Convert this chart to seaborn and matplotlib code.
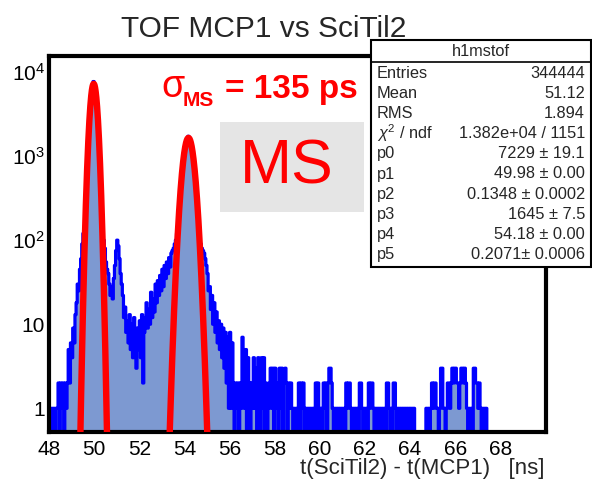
import numpy as np
import pandas as pd
import matplotlib
matplotlib.use("Agg")
import matplotlib.pyplot as plt
from matplotlib.patches import Rectangle
from matplotlib.lines import Line2D
from matplotlib.ticker import FixedLocator, FixedFormatter, MultipleLocator, NullFormatter
import seaborn as sns

# ---- histogram contents, 0.05 ns bins from 48 to 70 ns ----
counts_48_50 = [0, 1, 0, 1, 1, 0, 1, 1, 2, 0, 2, 1, 2, 0, 2, 1, 2, 5, 2, 6,
                4, 9, 6, 13, 18, 30, 25, 45, 60, 90, 120, 130, 260, 580, 1230, 2300, 3750, 5350, 6700, 7700]
counts_50_52 = [6900, 5650, 4080, 2560, 1400, 680, 300, 150, 100, 80, 55, 45, 40, 30, 22, 28, 20, 35, 50, 75,
                100, 85, 60, 40, 30, 22, 12, 16, 8, 11, 6, 13, 5, 10, 4, 12, 7, 3, 9, 5]
counts_52_54 = [11, 4, 13, 2, 8, 12, 18, 9, 15, 10, 24, 12, 20, 14, 30, 18, 33, 22, 38, 25,
                45, 28, 50, 35, 55, 40, 62, 48, 70, 75, 80, 90, 100, 120, 160, 250, 380, 560, 770, 1010]
counts_54_56 = [1250, 1450, 1600, 1720, 1630, 1490, 1290, 1060, 820, 600, 410, 270, 170, 110, 90, 80, 75, 70, 60, 50,
                40, 25, 28, 15, 22, 10, 18, 8, 14, 6, 11, 5, 10, 4, 9, 3, 8, 2, 7, 1]
counts_56_60 = [8, 1, 6, 2, 0, 2, 1, 2, 0, 2, 1, 7, 5, 1, 5, 0, 4, 2, 0, 2,
                1, 4, 1, 3, 0, 4, 2, 0, 4, 1, 4, 0, 2, 0, 1, 2, 3, 1, 3, 0,
                3, 1, 2, 0, 3, 1, 3, 0, 2, 3, 2, 0, 2, 1, 2, 1, 0, 1, 0, 1,
                0, 2, 0, 2, 1, 2, 0, 1, 0, 1, 0, 1, 0, 1, 0, 1, 2, 0, 2, 1]
counts_60_64 = [0, 1, 0, 2, 1, 2, 0, 2, 3, 3, 2, 1, 0, 1, 0, 1, 0, 1, 0, 1,
                0, 1, 0, 2, 1, 2, 2, 1, 0, 1, 0, 1, 0, 1, 0, 2, 2, 1, 0, 1,
                0, 1, 0, 2, 1, 2, 2, 1, 0, 1, 0, 1, 0, 1, 0, 1, 0, 1, 0, 2,
                2, 1, 0, 1, 0, 2, 2, 1, 0, 1, 0, 1, 0, 1, 0, 1, 0, 1, 0, 1]
counts_64_70 = [1, 0, 1, 1, 0, 0, 0, 0, 0, 0, 0, 0, 0, 0, 1, 0, 1, 0, 1, 2,
                1, 2, 2, 1, 1, 0, 1, 3, 3, 1, 1, 0, 1, 2, 2, 1, 2, 3, 2, 3,
                3, 2, 2, 1, 2, 3, 3, 2, 3, 2, 1, 0, 1, 0, 1, 0, 3, 3, 2, 2,
                1, 2, 1, 0, 1, 0, 1, 1, 0, 0, 0, 0, 0, 0, 0, 0, 0, 0, 0, 0,
                0, 0, 0, 0, 0, 0, 0, 0, 0, 0, 0, 0, 0, 0, 0, 0, 0, 0, 0, 0,
                0, 0, 0, 0, 0, 0, 0, 0, 0, 0, 0, 0, 0, 0, 0, 0, 0, 0, 0, 0]

# ---- double-gaussian fit result (p0..p5) ----
fit_params = [7229.0, 49.98, 0.1348, 1645.0, 54.18, 0.2071]
fit_range = (49.0, 55.5)

# ---- statistics panel ----
stats_title = "h1mstof"
stats_names = ["Entries", "Mean", "RMS", r"$\chi^{2}$ / ndf", "p0", "p1", "p2", "p3", "p4", "p5"]
stats_values = ["344444", "51.12", "1.894", "1.382e+04 / 1151", "7229 \u00b1 19.1",
                "49.98 \u00b1 0.00", "0.1348 \u00b1 0.0002", "1645 \u00b1 7.5",
                "54.18 \u00b1 0.00", "0.2071\u00b1 0.0006"]

y_ticks = [1, 10, 100, 1000, 10000]
y_tick_labels = ["1", "10", r"$10^{2}$", r"$10^{3}$", r"$10^{4}$"]
x_ticks = [48, 50, 52, 54, 56, 58, 60, 62, 64, 66, 68]

counts = np.array(counts_48_50 + counts_50_52 + counts_52_54 + counts_54_56
                  + counts_56_60 + counts_60_64 + counts_64_70, dtype=float)
edges = np.round(np.linspace(48.0, 70.0, len(counts) + 1), 4)
centers = 0.5 * (edges[:-1] + edges[1:])
hist_df = pd.DataFrame({"t": centers, "n": counts})

sns.set_theme(style="white")
plt.rcParams["font.family"] = ["Liberation Sans", "DejaVu Sans"]
plt.rcParams["mathtext.fontset"] = "custom"
plt.rcParams["mathtext.rm"] = "Liberation Sans"
plt.rcParams["mathtext.it"] = "Liberation Sans:italic"
plt.rcParams["mathtext.bf"] = "Liberation Sans:bold"

W, H = 592, 482
fig = plt.figure(figsize=(W / 100, H / 100), dpi=100)
fig.patch.set_facecolor("white")


def fx(px):
    return px / W


def fy(py):
    return 1 - py / H


ax_l, ax_r, ax_t, ax_b = 49, 545.5, 56, 431.5
ax = fig.add_axes([fx(ax_l), fy(ax_b), (ax_r - ax_l) / W, (ax_b - ax_t) / H])

sns.histplot(data=hist_df, x="t", weights="n", bins=list(edges), element="step", fill=True,
             facecolor="#7d99d1", edgecolor="#0000ff", linewidth=2.3, alpha=1.0, ax=ax)

# fitted function drawn from the quoted parameters
xf = np.linspace(fit_range[0], fit_range[1], 1500)
p = fit_params
yf = (p[0] * np.exp(-0.5 * ((xf - p[1]) / p[2]) ** 2)
      + p[3] * np.exp(-0.5 * ((xf - p[4]) / p[5]) ** 2))
sns.lineplot(x=xf, y=yf, color="#ff0000", linewidth=4.6, ax=ax, zorder=3)

ax.set_yscale("log")
ax.set_xlim(48, 70)
ax.set_ylim(0.53, 1.55e4)
ax.set_xlabel("")
ax.set_ylabel("")

ax.xaxis.set_major_locator(FixedLocator(x_ticks))
ax.xaxis.set_minor_locator(MultipleLocator(0.5))
ax.yaxis.set_major_locator(FixedLocator(y_ticks))
ax.yaxis.set_major_formatter(FixedFormatter(y_tick_labels))
ax.yaxis.set_minor_locator(FixedLocator([m * 10 ** e for e in range(-1, 5) for m in range(2, 10)]))
ax.yaxis.set_minor_formatter(NullFormatter())
ax.tick_params(axis="both", which="both", direction="in", top=False, right=False,
               color="black", width=1.6, labelsize=15, labelcolor="black")
ax.tick_params(axis="x", which="major", length=9, pad=6)
ax.tick_params(axis="x", which="minor", length=4.5)
ax.tick_params(axis="y", which="major", length=9, pad=3)
ax.tick_params(axis="y", which="minor", length=5)
for s in ax.spines.values():
    s.set_visible(True)
    s.set_color("black")
    s.set_linewidth(3.0)
ax.set_facecolor("white")

# sigma annotation
fig.text(fx(161), fy(97), "\u03c3", color="#ff0000", fontsize=27, fontweight="normal",
         ha="left", va="baseline")
fig.text(fx(183), fy(106), "MS", color="#ff0000", fontsize=15, fontweight="bold",
         ha="left", va="baseline")
fig.text(fx(225), fy(98), "= 135 ps", color="#ff0000", fontsize=24, fontweight="bold",
         ha="left", va="baseline")

# "MS" label on grey panel
fig.patches.append(Rectangle((fx(220), fy(212)), (364 - 220) / W, (212 - 122) / H,
                             transform=fig.transFigure, facecolor="#e5e5e5",
                             edgecolor="none", zorder=1))
fig.text(fx(287), fy(167), "MS", color="#ff0000", fontsize=45, ha="center", va="center", zorder=2)

# title and axis label
fig.text(fx(264), fy(37), "TOF MCP1 vs SciTil2", fontsize=21.5, ha="center", va="baseline")
fig.text(fx(545), fy(474), "t(SciTil2) - t(MCP1)   [ns]", fontsize=16, ha="right", va="baseline")

# statistics box
bx0, bx1, by0, by1 = 371, 590.5, 40, 267
fig.patches.append(Rectangle((fx(bx0), fy(by1)), (bx1 - bx0) / W, (by1 - by0) / H,
                             transform=fig.transFigure, facecolor="white",
                             edgecolor="black", linewidth=1.5, zorder=5))
fig.lines.append(Line2D([fx(bx0), fx(bx1)], [fy(61.5), fy(61.5)], transform=fig.transFigure,
                        color="black", linewidth=1.2, zorder=6))
fig.text(fx(481), fy(51), stats_title, fontsize=11.8, ha="center", va="center", zorder=7)
row_top, row_pitch = 73.0, 20.2
for i, (name, val) in enumerate(zip(stats_names, stats_values)):
    yy = fy(row_top + i * row_pitch)
    fig.text(fx(377), yy, name, fontsize=11.8, ha="left", va="center", zorder=7)
    fig.text(fx(585), yy, val, fontsize=11.8, ha="right", va="center", zorder=7)

fig.savefig("out.png", dpi=100, facecolor="white")
